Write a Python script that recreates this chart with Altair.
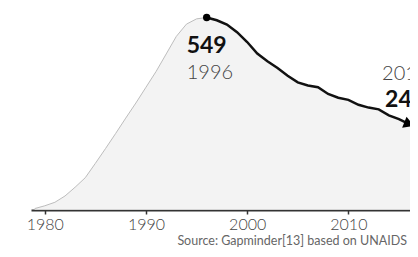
import altair as alt
import pandas as pd

# Gray area (full series)
area_years = list(range(1979, 2018))
area_values = [4, 12, 22, 40, 65, 92, 133, 175, 218, 262, 305, 350, 395, 445, 495, 530, 545, 549,
               541, 529, 507, 479, 446, 424, 405, 383, 364, 355, 350, 331, 320, 314, 300, 292, 287,
               270, 259, 245, 233]

# Black highlighted line 1996-2016
line_years = list(range(1996, 2017))
line_values = [549, 541, 529, 507, 479, 446, 424, 405, 383, 364, 355, 350, 331, 320, 314, 300,
               292, 287, 270, 259, 245]

tick_years = [1980, 1990, 2000, 2010]

peak_year, peak_value = 1996, 549
end_year, end_value = 2016, 245

FONT = "Lato"

area_df = pd.DataFrame({"year": area_years, "value": area_values})
line_df = pd.DataFrame({"year": line_years, "value": line_values})
peak_df = pd.DataFrame({"year": [peak_year], "value": [peak_value]})
end_df = pd.DataFrame({"year": [end_year], "value": [end_value]})

xs = alt.Scale(domain=[1978.64, 2016.09], nice=False, zero=False)
ys = alt.Scale(domain=[0, 576], nice=False)

x_axis = alt.Axis(values=tick_years, format="d", title=None, grid=False,
                  domainColor="#333333", domainWidth=2, tickColor="#333333",
                  tickWidth=1.5, tickSize=4, labelFont=FONT, labelFontSize=16,
                  labelFontWeight=300, labelColor="#444444", labelPadding=2)

area = alt.Chart(area_df).mark_area(
    color="#eeeeee", line={"color": "#bdbdbd", "strokeWidth": 1}, clip=True
).encode(
    x=alt.X("year:Q", scale=xs, axis=x_axis),
    y=alt.Y("value:Q", scale=ys, axis=None),
)

line = alt.Chart(line_df).mark_line(color="#111111", strokeWidth=2.5).encode(
    x=alt.X("year:Q", scale=xs), y=alt.Y("value:Q", scale=ys)
)

peak_pt = alt.Chart(peak_df).mark_point(filled=True, color="#000000", size=55, opacity=1).encode(
    x=alt.X("year:Q", scale=xs), y=alt.Y("value:Q", scale=ys)
)

arrow = alt.Chart(end_df).mark_point(shape="triangle-right", filled=True, color="#000000",
                                     size=140, angle=22, opacity=1).encode(
    x=alt.X("year:Q", scale=xs), y=alt.Y("value:Q", scale=ys)
)

peak_val = alt.Chart(peak_df).mark_text(font=FONT, fontSize=23, fontWeight="bold", color="#111111",
                                        align="left", baseline="alphabetic", dx=-20, dy=35.5).encode(
    x=alt.X("year:Q", scale=xs), y=alt.Y("value:Q", scale=ys), text=alt.Text("value:Q", format="d")
)
peak_yr = alt.Chart(peak_df).mark_text(font=FONT, fontSize=20, fontWeight=300, color="#444444",
                                       align="left", baseline="alphabetic", dx=-20, dy=61.5).encode(
    x=alt.X("year:Q", scale=xs), y=alt.Y("value:Q", scale=ys), text=alt.Text("year:Q", format="d")
)
end_yr = alt.Chart(end_df).mark_text(font=FONT, fontSize=20, fontWeight=300, color="#444444",
                                     align="left", baseline="alphabetic", dx=-27, dy=-44).encode(
    x=alt.X("year:Q", scale=xs), y=alt.Y("value:Q", scale=ys), text=alt.Text("year:Q", format="d")
)
end_val = alt.Chart(end_df).mark_text(font=FONT, fontSize=23, fontWeight="bold", color="#111111",
                                      align="left", baseline="alphabetic", dx=-24, dy=-17).encode(
    x=alt.X("year:Q", scale=xs), y=alt.Y("value:Q", scale=ys), text=alt.value("241")
)

source = alt.Chart(end_df).mark_text(font=FONT, fontSize=12.5, color="#666666", align="right",
                                     baseline="alphabetic").encode(
    x=alt.value(376), y=alt.value(237), text=alt.value("Source: Gapminder[13] based on UNAIDS")
)

chart = alt.layer(area, line, peak_pt, arrow, peak_val, peak_yr, end_yr, end_val, source).properties(
    width=379, height=202,
    padding={"left": 23, "right": 0, "top": 0, "bottom": 39},
    autosize=alt.AutoSizeParams(type="none"),
).configure(background="white").configure_view(stroke=None)

chart.save("out.html", embed_options={"renderer": "svg", "actions": False})
